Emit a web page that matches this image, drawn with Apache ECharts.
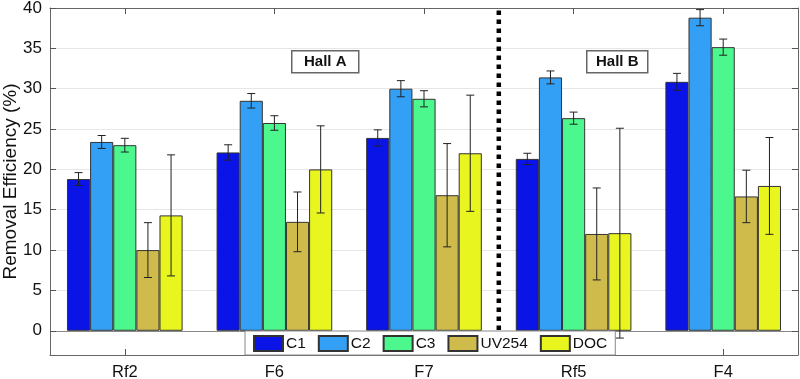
<!DOCTYPE html>
<html>
<head>
<meta charset="utf-8">
<script src="https://cdn.jsdelivr.net/npm/echarts@6/dist/echarts.min.js"></script>
<style>html,body{margin:0;padding:0;background:#fff}#c{width:800px;height:379px}</style>
</head>
<body>
<div id="c"></div>
<script>
var categories = ['Rf2', 'F6', 'F7', 'Rf5', 'F4'];
var seriesNames = ['C1', 'C2', 'C3', 'UV254', 'DOC'];
var C1 = [18.8, 22.1, 23.9, 21.3, 30.85];
var C2 = [23.4, 28.5, 30.0, 31.4, 38.8];
var C3 = [23.0, 25.75, 28.75, 26.35, 35.15];
var UV254 = [10.0, 13.5, 16.8, 12.0, 16.65];
var DOC = [14.3, 20.0, 22.0, 12.1, 17.95];
var errC1 = [0.8, 0.95, 1.0, 0.7, 1.05];
var errC2 = [0.8, 0.9, 1.0, 0.8, 1.0];
var errC3 = [0.85, 0.9, 1.0, 0.75, 1.0];
var errUV254 = [3.4, 3.7, 6.4, 5.7, 3.25];
var errDOC = [7.5, 5.4, 7.2, 13.0, 6.0];
var yTicks = [0, 5, 10, 15, 20, 25, 30, 35, 40];
var separatorRange = [0, 39.7];

var values = [C1, C2, C3, UV254, DOC];
var errors = [errC1, errC2, errC3, errUV254, errDOC];
var colors = ['#0a14e6', '#33a0f5', '#4cf78d', '#cfbb4c', '#e8f51e'];
var catGap = 0.227;

var errData = [];
for (var s = 0; s < 5; s++) {
  for (var i = 0; i < categories.length; i++) {
    errData.push([i, s, values[s][i] - errors[s][i], values[s][i] + errors[s][i]]);
  }
}

var series = seriesNames.map(function (n, s) {
  return {
    name: n, type: 'bar', data: values[s], barGap: 0, barCategoryGap: (catGap * 100) + '%',
    itemStyle: { color: colors[s], borderColor: '#333', borderWidth: 1 },
    emphasis: { disabled: true }, z: 2
  };
});

series.push({
  type: 'custom', name: 'err', z: 5, silent: true,
  data: errData,
  encode: { x: 0, y: [2, 3] },
  renderItem: function (params, api) {
    var ci = api.value(0), si = api.value(1);
    var band = api.size([1, 0])[0];
    var bw = band * (1 - catGap) / 5;
    var cx = api.coord([ci, 0])[0] + (si - 2) * bw;
    var lo = api.coord([ci, api.value(2)])[1];
    var hi = api.coord([ci, api.value(3)])[1];
    var cap = 4;
    var st = { stroke: '#222', lineWidth: 1 };
    return { type: 'group', children: [
      { type: 'line', shape: { x1: cx, y1: lo, x2: cx, y2: hi }, style: st },
      { type: 'line', shape: { x1: cx - cap, y1: lo, x2: cx + cap, y2: lo }, style: st },
      { type: 'line', shape: { x1: cx - cap, y1: hi, x2: cx + cap, y2: hi }, style: st }
    ]};
  }
});

series.push({
  type: 'custom', name: 'sep', z: 6, silent: true,
  data: [[2, separatorRange[0], separatorRange[1]]],
  encode: { x: 0, y: [1, 2] },
  renderItem: function (params, api) {
    var band = api.size([1, 0])[0];
    var x = api.coord([api.value(0), 0])[0] + band / 2;
    var y1 = api.coord([api.value(0), api.value(1)])[1];
    var y2 = api.coord([api.value(0), api.value(2)])[1];
    return { type: 'line', shape: { x1: x, y1: y2, x2: x, y2: y1 },
      style: { stroke: '#000', lineWidth: 4.5, lineDash: [4.5, 4.5] } };
  }
});

var gridColors = yTicks.map(function (v) { return v === 0 ? '#8a8a8a' : '#e6e6e6'; });

var chart = echarts.init(document.getElementById('c'));
chart.setOption({
  animation: false,
  backgroundColor: '#fff',
  textStyle: { fontFamily: 'Liberation Sans, Arial, sans-serif' },
  grid: { left: 50, right: 2, top: 8, bottom: 24, containLabel: false, outerBoundsMode: 'none' },
  legend: {
    data: seriesNames, left: 245, top: 331, orient: 'horizontal',
    padding: [4, 8, 3, 8], itemGap: 12, itemWidth: 29, itemHeight: 15,
    backgroundColor: '#fff', borderColor: '#888', borderWidth: 1,
    textStyle: { fontSize: 15.5, color: '#111', padding: [0, 0, 0, -2] },
    icon: 'rect', selectedMode: false
  },
  xAxis: [{
    type: 'category', data: categories, position: 'bottom',
    axisLine: { show: true, onZero: false, lineStyle: { color: '#666', width: 1 } },
    axisTick: { show: true, inside: true, alignWithLabel: true, length: 6, lineStyle: { color: '#555' } },
    axisLabel: { fontSize: 16.5, color: '#111', margin: 9 },
    splitLine: { show: false }
  }, {
    type: 'category', data: categories, position: 'top',
    axisLine: { show: true, onZero: false, lineStyle: { color: '#666', width: 1 } },
    axisTick: { show: true, inside: true, alignWithLabel: true, length: 6, lineStyle: { color: '#555' } },
    axisLabel: { show: false }
  }],
  yAxis: [{
    type: 'value', min: -3, max: 40,
    name: 'Removal Efficiency (%)', nameLocation: 'middle', nameGap: 30, nameMoveOverlap: false,
    nameTextStyle: { fontSize: 19, color: '#111' },
    axisLine: { show: true, onZero: false, lineStyle: { color: '#666', width: 1 } },
    axisTick: { show: true, inside: true, length: 6, customValues: yTicks, lineStyle: { color: '#555' } },
    axisLabel: { fontSize: 17, color: '#111', margin: 8, customValues: yTicks },
    splitLine: { show: true, lineStyle: { color: gridColors, width: 1 } }
  }, {
    type: 'value', min: -3, max: 40, position: 'right',
    axisLine: { show: true, onZero: false, lineStyle: { color: '#666', width: 1 } },
    axisTick: { show: true, inside: true, length: 6, customValues: yTicks, lineStyle: { color: '#555' } },
    axisLabel: { show: false, customValues: yTicks },
    splitLine: { show: false }
  }],
  graphic: [
    { type: 'group', left: 291, top: 50, children: [
      { type: 'rect', shape: { x: 0, y: 0, width: 67, height: 22 }, style: { fill: '#fff', stroke: '#666', lineWidth: 1.5 } },
      { type: 'text', x: 33.5, y: 11, style: { text: 'Hall A', font: 'bold 15px Liberation Sans, Arial, sans-serif', fill: '#111', align: 'center', verticalAlign: 'middle' } }
    ]},
    { type: 'group', left: 586, top: 50, children: [
      { type: 'rect', shape: { x: 0, y: 0, width: 61, height: 22 }, style: { fill: '#fff', stroke: '#666', lineWidth: 1.5 } },
      { type: 'text', x: 30.5, y: 11, style: { text: 'Hall B', font: 'bold 15px Liberation Sans, Arial, sans-serif', fill: '#111', align: 'center', verticalAlign: 'middle' } }
    ]}
  ],
  series: series
});
</script>
</body>
</html>
